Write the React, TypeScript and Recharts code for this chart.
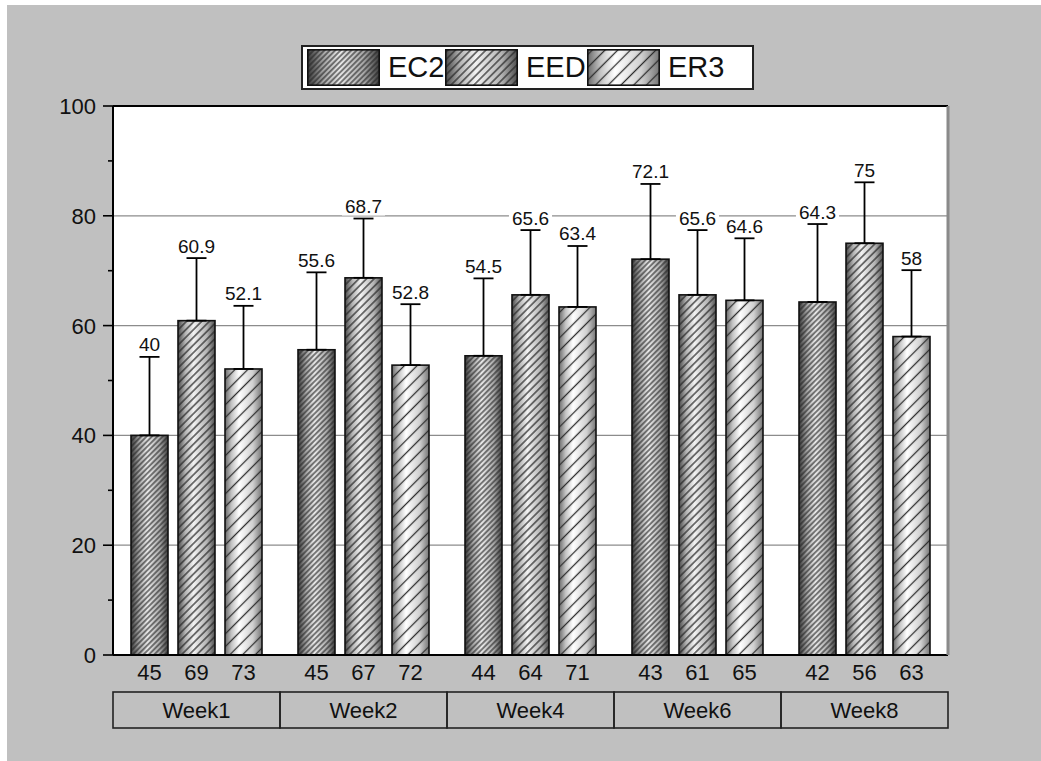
import React from 'react'
import {
  BarChart,
  Bar,
  XAxis,
  YAxis,
  CartesianGrid,
  ErrorBar,
  LabelList,
  Legend,
  ReferenceLine,
} from 'recharts'

const weeks = ['Week1', 'Week2', 'Week4', 'Week6', 'Week8']

// mean values
const ec2 = [40, 55.6, 54.5, 72.1, 64.3]
const eed = [60.9, 68.7, 65.6, 65.6, 75]
const er3 = [52.1, 52.8, 63.4, 64.6, 58]

// upper error (SD)
const ec2Err = [14.3, 14.1, 14.1, 13.7, 14.2]
const eedErr = [11.4, 10.8, 11.8, 11.8, 11.1]
const er3Err = [11.5, 11.1, 11.1, 11.3, 12.1]

// sample sizes under each bar
const ec2N = [45, 45, 44, 43, 42]
const eedN = [69, 67, 64, 61, 56]
const er3N = [73, 72, 71, 65, 63]

const yTicks = [0, 10, 20, 30, 40, 50, 60, 70, 80, 90, 100]
const gridValues = [20, 40, 60, 80]

const FONT = "'Liberation Sans', Arial, sans-serif"

// cylinder-like shading + diagonal hatch per series
const series = [
  {
    key: 'EC2', errs: ec2Err, ns: ec2N, gap: 3.8, lw: 1.1, line: '#262626',
    stops: [['0%', '#3a3a3a'], ['22%', '#a4a4a4'], ['45%', '#e8e8e8'], ['78%', '#a8a8a8'], ['100%', '#3e3e3e']],
  },
  {
    key: 'EED', errs: eedErr, ns: eedN, gap: 5.4, lw: 1.2, line: '#262626',
    stops: [['0%', '#4a4a4a'], ['20%', '#b4b4b4'], ['42%', '#f2f2f2'], ['78%', '#b4b4b4'], ['100%', '#505050']],
  },
  {
    key: 'ER3', errs: er3Err, ns: er3N, gap: 9, lw: 1.3, line: '#2e2e2e',
    stops: [['0%', '#6a6a6a'], ['18%', '#c4c4c4'], ['38%', '#ffffff'], ['75%', '#d0d0d0'], ['100%', '#767676']],
  },
]

const data = weeks.map((w, i) => ({
  week: w,
  EC2: ec2[i],
  EED: eed[i],
  ER3: er3[i],
  EC2Err: [0, ec2Err[i]],
  EEDErr: [0, eedErr[i]],
  ER3Err: [0, er3Err[i]],
  EC2N: ec2N[i],
  EEDN: eedN[i],
  ER3N: er3N[i],
}))

function Defs({ prefix }: { prefix: string }) {
  return (
    <defs>
      {series.map((s) => (
        <React.Fragment key={s.key}>
          <linearGradient id={`${prefix}grad-${s.key}`} x1="0" y1="0" x2="1" y2="0">
            {s.stops.map(([o, c]) => (
              <stop key={o} offset={o} stopColor={c} />
            ))}
          </linearGradient>
          <pattern
            id={`${prefix}hatch-${s.key}`}
            patternUnits="userSpaceOnUse"
            width={s.gap}
            height={s.gap}
            patternTransform="rotate(45)"
          >
            <line x1={s.gap / 2} y1={0} x2={s.gap / 2} y2={s.gap} stroke={s.line} strokeWidth={s.lw} />
          </pattern>
        </React.Fragment>
      ))}
    </defs>
  )
}

const makeShape = (key: string) => (props: any) => {
  const { x, y, width, height } = props
  return (
    <g>
      <rect x={x} y={y} width={width} height={height} fill={`url(#grad-${key})`} />
      <rect x={x} y={y} width={width} height={height} fill={`url(#hatch-${key})`} />
      <rect x={x} y={y} width={width} height={height} fill="none" stroke="#111" strokeWidth={1.6} />
    </g>
  )
}

const makeValueLabel = (errs: number[]) => (props: any) => {
  const vb = props.viewBox ?? props
  const { x, y, width, height } = vb
  const v = Number(props.value)
  const e = errs[props.index]
  const capY = y - (height * e) / v
  const cx = x + width / 2
  const txt = String(v)
  const tw = txt.replace('.', '').length * 10.6 + (txt.includes('.') ? 5.3 : 0)
  return (
    <g>
      <rect x={cx - tw / 2 - 3} y={capY - 20} width={tw + 6} height={17} fill="#fff" />
      <text x={cx} y={capY - 5.5} textAnchor="middle" fontSize={19} fontFamily={FONT} fill="#111">
        {txt}
      </text>
    </g>
  )
}

const makeNLabel = (ns: number[]) => (props: any) => {
  const vb = props.viewBox ?? props
  const { x, y, width, height } = vb
  return (
    <text x={x + width / 2} y={y + height + 25} textAnchor="middle" fontSize={22} fontFamily={FONT} fill="#111">
      {ns[props.index]}
    </text>
  )
}

const YTick = (props: any) => {
  const { x, y, payload } = props
  const v = payload.value
  const major = v % 20 === 0
  return (
    <g>
      <line x1={x} x2={x - (major ? 10 : 5)} y1={y} y2={y} stroke="#000" strokeWidth={1.6} />
      {major && (
        <text x={x - 17} y={y} dy="0.36em" textAnchor="end" fontSize={22} fontFamily={FONT} fill="#111">
          {v}
        </text>
      )}
    </g>
  )
}

const WeekTick = (props: any) => {
  const { x, y, payload, width, visibleTicksCount } = props
  const band = width && visibleTicksCount ? width / visibleTicksCount : 167
  return (
    <g>
      <rect x={x - band / 2} y={y + 37} width={band} height={36} fill="none" stroke="#222" strokeWidth={1.6} />
      <text x={x} y={y + 55} dy="0.36em" textAnchor="middle" fontSize={22} fontFamily={FONT} fill="#111">
        {payload.value}
      </text>
    </g>
  )
}

const legendTextWidths = [65, 69, 70]

const renderLegend = () => (
  <div
    style={{
      boxSizing: 'border-box',
      width: 453,
      height: 45,
      border: '2px solid #222',
      background: '#fff',
      display: 'flex',
      alignItems: 'center',
      paddingLeft: 4,
      fontFamily: FONT,
      fontSize: 29,
      color: '#111',
    }}
  >
    <svg width={0} height={0} style={{ position: 'absolute' }}>
      <Defs prefix="lg-" />
    </svg>
    {series.map((s, i) => (
      <React.Fragment key={s.key}>
        <svg width={73} height={37} style={{ display: 'block' }}>
          <rect x={0.8} y={0.8} width={71.4} height={35.4} fill={`url(#lg-grad-${s.key})`} />
          <rect x={0.8} y={0.8} width={71.4} height={35.4} fill={`url(#lg-hatch-${s.key})`} />
          <rect x={0.8} y={0.8} width={71.4} height={35.4} fill="none" stroke="#111" strokeWidth={1.6} />
        </svg>
        <span style={{ display: 'inline-block', width: legendTextWidths[i], paddingLeft: 8, boxSizing: 'border-box', lineHeight: '37px' }}>
          {s.key}
        </span>
      </React.Fragment>
    ))}
  </div>
)

export default function App() {
  return (
    <div style={{ position: 'absolute', left: 0, top: 0, width: 1041, height: 761, background: '#fff' }}>
      <div style={{ position: 'absolute', left: 7, top: 5, width: 1034, height: 756, background: '#c0c0c0' }} />
      <div style={{ position: 'absolute', left: 0, top: 0 }}>
        <BarChart
          width={1041}
          height={761}
          data={data}
          margin={{ top: 106, right: 90, bottom: 29, left: 53 }}
          barSize={37}
          barGap={10}
        >
          <Defs prefix="" />
          <CartesianGrid vertical={false} horizontalValues={gridValues} stroke="#8c8c8c" strokeWidth={1.2} fill="#fff" fillOpacity={1} />
          <XAxis
            dataKey="week"
            height={77}
            tickLine={false}
            tickSize={0}
            tickMargin={0}
            interval={0}
            axisLine={{ stroke: '#000', strokeWidth: 2 }}
            tick={<WeekTick />}
          />
          <YAxis
            domain={[0, 100]}
            ticks={yTicks}
            interval={0}
            width={60}
            tickLine={false}
            tickSize={0}
            tickMargin={0}
            axisLine={{ stroke: '#000', strokeWidth: 2 }}
            tick={<YTick />}
          />
          <YAxis
            yAxisId="right"
            orientation="right"
            domain={[0, 100]}
            width={3}
            tick={false}
            tickLine={false}
            axisLine={{ stroke: '#8a8a8a', strokeWidth: 3 }}
          />
          <ReferenceLine y={100} stroke="#000" strokeWidth={2} />
          <Legend
            verticalAlign="middle"
            align="center"
            layout="horizontal"
            wrapperStyle={{ left: 301, top: 45, width: 453, height: 45 }}
            content={renderLegend}
          />
          {series.map((s) => (
            <Bar key={s.key} dataKey={s.key} isAnimationActive={false} shape={makeShape(s.key)}>
              <ErrorBar dataKey={`${s.key}Err`} direction="y" width={10} stroke="#000" strokeWidth={1.8} isAnimationActive={false} />
              <LabelList dataKey={s.key} content={makeValueLabel(s.errs)} />
              <LabelList dataKey={`${s.key}N`} content={makeNLabel(s.ns)} />
            </Bar>
          ))}
        </BarChart>
      </div>
    </div>
  )
}
